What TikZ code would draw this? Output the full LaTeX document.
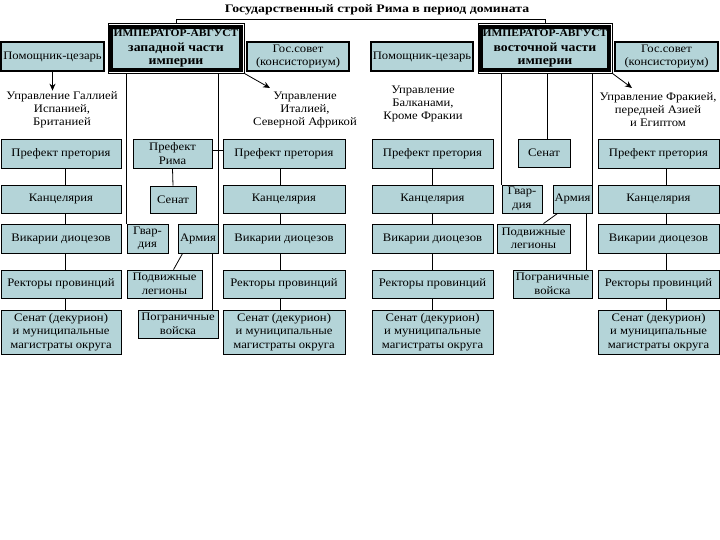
\documentclass[tikz,border=0pt]{standalone}
\usepackage{fontspec}
\setmainfont{Liberation Serif}[FakeStretch=1.1]
\newfontfamily\widefont{Liberation Serif}[FakeStretch=1.2]
\usetikzlibrary{calc,fit,arrows.meta}
\definecolor{boxfill}{RGB}{180,212,216}
\tikzset{
 box/.style={draw=black, line width=0.8pt, fill=boxfill, inner sep=0pt, align=center, font=\fontsize{11.5}{13.5}\selectfont},
 bbox/.style={box, line width=2.4pt},
 ebox/.style={box, line width=3.2pt, font=\fontsize{10.5}{15}\selectfont\bfseries},
 eframe/.style={draw=black, line width=0.8pt, inner sep=1.5pt},
 lbl/.style={align=center, inner sep=1pt, font=\fontsize{11.5}{13}\selectfont},
 conn/.style={draw=black, line width=0.8pt},
 arr/.style={conn, -{Stealth[length=7pt,width=6pt]}},
}
\newcommand\bx[7][box]{\node[#1, minimum width={#5-#3}, minimum height={#6-#4}] (#2) at ({(#3+#5)/2},{(#4+#6)/2}) {#7};}
\newcommand\empl[1]{{\fontsize{12.5}{13}\selectfont #1}}
\begin{document}
\begin{tikzpicture}[x=1pt,y=-1pt]
\fill[white] (0,0) rectangle (720,540);
\useasboundingbox (0,0) rectangle (720,540);
\node[font={\widefont\fontsize{11.5}{13}\selectfont\bfseries}] (title) at (377,10) {Государственный строй Рима в период домината};

% West
\bx[ebox]{wemp}{111}{27}{241}{70}{ИМПЕРАТОР-АВГУСТ\\[0.5pt]\empl{западной части}\\[-2pt]\empl{империи}}
\node[eframe, fit=(wemp)] (wempo) {};
\bx[bbox]{wpom}{1}{42}{104}{71}{Помощник-цезарь}
\bx[bbox]{wsov}{247}{42}{349}{71}{Гос.совет\\(консисториум)}
\node[lbl] (wgal) at (62,110) {Управление Галлией\\Испанией,\\Британией};
\node[lbl] (witl) at (305,110) {Управление\\Италией,\\Северной Африкой};
\coordinate (witlt) at (270,88);

\bx{wpp1}{1}{139}{121}{168}{Префект претория}
\bx{wk1}{1}{185}{121}{213}{Канцелярия}
\bx{wv1}{1}{224}{121}{253}{Викарии диоцезов}
\bx{wr1}{1}{270}{121}{298}{Ректоры провинций}
\bx{ws1}{1}{310}{121}{354}{Сенат (декурион)\\и муниципальные\\магистраты округа}

\bx{wpp2}{223}{139}{345}{168}{Префект претория}
\bx{wk2}{223}{185}{345}{213}{Канцелярия}
\bx{wv2}{223}{224}{345}{253}{Викарии диоцезов}
\bx{wr2}{223}{270}{345}{298}{Ректоры провинций}
\bx{ws2}{223}{310}{345}{354}{Сенат (декурион)\\и муниципальные\\магистраты округа}

\bx{wpr}{133}{139}{212}{168}{Префект\\Рима}
\bx{wsen}{150}{186}{196}{213}{Сенат}
\bx{wgv}{127}{224}{168}{253}{Гвар-\\дия}
\bx{warm}{178}{224}{218}{253}{Армия}
\bx{wpod}{127}{270}{202}{298}{Подвижные\\легионы}
\bx{wpg}{138}{310}{218}{338}{Пограничные\\войска}

% East
\bx[ebox]{eemp}{481}{27}{609}{70}{ИМПЕРАТОР-АВГУСТ\\[0.5pt]\empl{восточной части}\\[-2pt]\empl{империи}}
\node[eframe, fit=(eemp)] (eempo) {};
\bx[bbox]{epom}{371}{42}{473}{71}{Помощник-цезарь}
\bx[bbox]{esov}{615}{42}{718}{71}{Гос.совет\\(консисториум)}
\node[lbl] (ebal) at (423,104) {Управление\\Балканами,\\Кроме Фракии};
\node[lbl] (efr) at (658,110) {Управление Фракией,\\передней Азией\\и Египтом};
\coordinate (efrt) at (632,88);

\bx{epp1}{372}{139}{493}{168}{Префект претория}
\bx{ek1}{372}{185}{493}{213}{Канцелярия}
\bx{ev1}{372}{224}{493}{253}{Викарии диоцезов}
\bx{er1}{372}{270}{493}{298}{Ректоры провинций}
\bx{es1}{372}{310}{493}{354}{Сенат (декурион)\\и муниципальные\\магистраты округа}

\bx{epp3}{598}{139}{719}{168}{Префект претория}
\bx{ek3}{598}{185}{719}{213}{Канцелярия}
\bx{ev3}{598}{224}{719}{253}{Викарии диоцезов}
\bx{er3}{598}{270}{719}{298}{Ректоры провинций}
\bx{es3}{598}{310}{719}{354}{Сенат (декурион)\\и муниципальные\\магистраты округа}

\bx{esen}{518}{139}{570}{167}{Сенат}
\bx{egv}{502}{185}{542}{213}{Гвар-\\дия}
\bx{earm}{553}{185}{592}{213}{Армия}
\bx{epod}{497}{224}{570}{253}{Подвижные\\легионы}
\bx{epg}{513}{270}{592}{298}{Пограничные\\войска}

% connectors
\draw[conn] (wempo.north) -- ++(0,-4) -| (eempo.north);
\draw[arr] (wpom.south) -- (wpom.south |- wgal.north);
\draw[arr] (wempo.south east) -- (witlt);
\draw[arr] (eempo.south east) -- (efrt);

\foreach \a/\b in {wpp1/wk1,wk1/wv1,wv1/wr1,wr1/ws1}
  \draw[conn] ([xshift=4pt]\a.south) -- ([xshift=4pt]\b.north);
\foreach \a/\b in {wpp2/wk2,wk2/wv2,wv2/wr2,wr2/ws2}
  \draw[conn] ([xshift=-4pt]\a.south) -- ([xshift=-4pt]\b.north);
\foreach \a/\b in {epp1/ek1,ek1/ev1,ev1/er1,er1/es1}
  \draw[conn] (\a.south) -- (\b.north);
\foreach \a/\b in {epp3/ek3,ek3/ev3,ev3/er3,er3/es3}
  \draw[conn] ([xshift=8pt]\a.south) -- ([xshift=8pt]\b.north);

\draw[conn] (wgv.north west |- wempo.south) -- (wgv.north west);
\draw[conn] (warm.north east |- wempo.south) -- (warm.north east);
\draw[conn] ([yshift=3pt]wpr.east) -- ([yshift=3pt]wpp2.west);
\draw[conn] (wpr.south) -- (wsen.north);
\draw[conn] ([xshift=5pt]warm.south west) -- ([xshift=9pt]wpod.north);
\draw[conn] ([xshift=-6pt]warm.south east) -- ([xshift=-6pt]wpg.north east);

\draw[conn] (egv.north west |- eempo.south) -- (egv.north west);
\draw[conn] ([xshift=3pt]esen.north |- eempo.south) -- ([xshift=3pt]esen.north);
\draw[conn] (earm.north east |- eempo.south) -- (earm.north east);
\draw[conn] ([xshift=5pt]earm.south west) -- ([xshift=10pt]epod.north);
\draw[conn] ([xshift=-6pt]earm.south east) -- ([xshift=-6pt]epg.north east);
\end{tikzpicture}
\end{document}
